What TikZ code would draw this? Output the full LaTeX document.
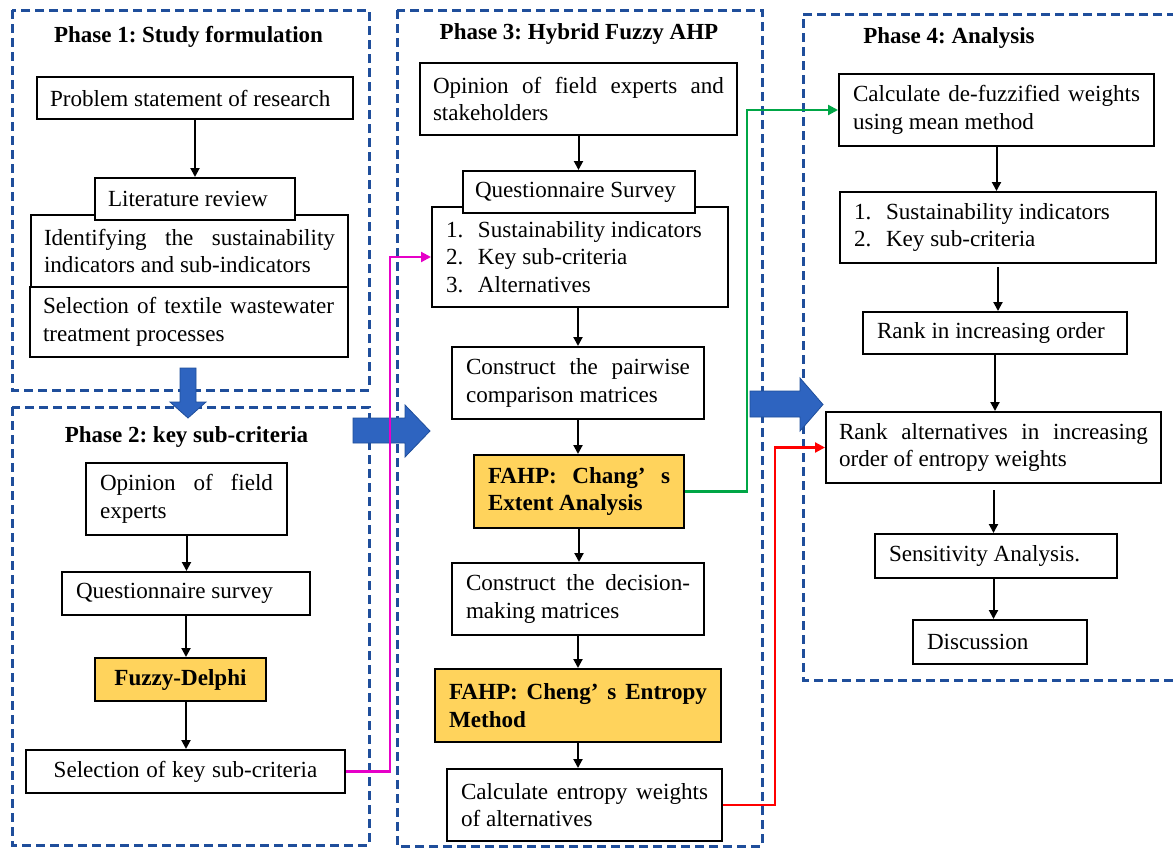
\documentclass[tikz,border=0pt]{standalone}
\usepackage{fontspec}
\setmainfont{Liberation Serif}
\usetikzlibrary{arrows.meta,calc}
\setlength{\parindent}{0pt}
\frenchspacing
\newcommand\sline[2]{\makebox[#1][s]{\spaceskip=0pt\relax\xspaceskip=0pt\relax #2}}
\newcommand\itm[2]{\makebox[32pt][l]{#1}#2}
\definecolor{dashblue}{RGB}{31,78,155}
\definecolor{arrblue}{RGB}{46,100,192}
\definecolor{gold}{RGB}{255,211,92}
\definecolor{mag}{RGB}{230,0,200}
\definecolor{grn}{RGB}{0,166,70}
\begin{document}
\begin{tikzpicture}[x=1pt,y=-1pt,
 box/.style={draw=black, line width=2pt, fill=white, anchor=north west, align=left, inner ysep=0pt, font=\fontsize{23.1}{27.5}\selectfont,
   execute at begin node={\spaceskip=0pt\relax\xspaceskip=0pt\relax}},
 cbox/.style={box, align=center},
 hbox/.style={box, fill=gold, font=\fontsize{23.1}{27.5}\selectfont\bfseries},
 phase/.style={dashblue, line width=3pt, dash pattern=on 9pt off 5pt},
 title/.style={anchor=base, font=\fontsize{23}{27.5}\selectfont\bfseries, inner sep=0pt},
 arr/.style={line width=2pt, -{Triangle[length=9pt,width=9pt]}},
 link/.style={line width=2.2pt, -{Triangle[length=10pt,width=10pt]}},
 barrow/.style={fill=arrblue, draw=dashblue, line width=0.8pt}
]
\useasboundingbox (0,0) rectangle (1173,849);
\clip (0,0) rectangle (1173,849);
\fill[white] (0,0) rectangle (1173,849);

% phase frames
\draw[phase] (12,10) rectangle (369,390);
\draw[phase] (12,407) rectangle (369,845);
\draw[phase] (397,10) rectangle (762,846);
\draw[phase] (1190,14) -- (803,14) -- (803,680) -- (1190,680);

% titles
\node[title] (t1) at (188.5,42) {Phase 1: Study formulation};
\node[title] (t2) at (186.5,442) {Phase 2: key sub-criteria};
\node[title] (t3) at (579,39) {Phase 3: Hybrid Fuzzy AHP};
\node[title] (t4) at (949,43) {Phase 4: Analysis};

% Phase 1
\node[box, minimum width=316pt, minimum height=42pt, text width=290pt, inner xsep=13pt] (p1) at (36,76) {Problem statement of research};
\node[box, minimum width=317pt, minimum height=72pt, text width=291pt, inner xsep=13pt] (ident) at (30,214) {\sline{291pt}{Identifying the sustainability}\\indicators and sub-indicators};
\node[box, minimum width=318pt, minimum height=70pt, text width=292pt, inner xsep=13pt] (sel) at (29,286) {\sline{291pt}{Selection of textile wastewater}\\treatment processes};
\node[box, minimum width=200pt, minimum height=42pt, text width=174pt, inner xsep=13pt] (lit) at (94,177) {Literature review};

% Phase 2
\node[box, minimum width=201pt, minimum height=72pt, text width=173pt, inner xsep=14pt] (op2) at (85,462) {\sline{173pt}{Opinion of field}\\experts};
\node[box, minimum width=248pt, minimum height=43pt, text width=220pt, inner xsep=14pt] (qs2) at (61,571) {Questionnaire survey};
\node[hbox, align=center, minimum width=171pt, minimum height=43pt, text width=151pt, inner xsep=10pt] (fd) at (94,657) {Fuzzy-Delphi};
\node[cbox, minimum width=319pt, minimum height=43pt, text width=291pt, inner xsep=14pt] (sk) at (25,749) {Selection of key sub-criteria};

% Phase 3
\node[box, minimum width=317pt, minimum height=72pt, text width=291pt, inner xsep=13pt] (op3) at (419,62) {\sline{291pt}{Opinion of field experts and}\\stakeholders};
\node[box, minimum width=296pt, minimum height=100pt, text width=268pt, inner xsep=14pt] (list3) at (431,206) {\itm{1.}{Sustainability indicators}\\\itm{2.}{Key sub-criteria}\\\itm{3.}{Alternatives}};
\node[box, minimum width=232pt, minimum height=42pt, text width=208pt, inner xsep=12pt] (qs3) at (462,170) {Questionnaire Survey};
\node[box, minimum width=252pt, minimum height=72pt, text width=224pt, inner xsep=14pt] (cp) at (451,346) {\sline{224pt}{Construct the pairwise}\\comparison matrices};
\node[hbox, minimum width=210pt, minimum height=73pt, text width=182pt, inner xsep=14pt] (ch) at (473,454) {\sline{182pt}{FAHP: Chang’ s}\\Extent Analysis};
\node[box, minimum width=252pt, minimum height=72pt, text width=224pt, inner xsep=14pt] (cd) at (451,562) {\sline{224pt}{Construct the decision-}\\making matrices};
\node[hbox, minimum width=286pt, minimum height=73pt, text width=258pt, inner xsep=14pt] (ce) at (434,668) {\sline{258pt}{FAHP: Cheng’ s Entropy}\\Method};
\node[box, minimum width=275pt, minimum height=72pt, text width=247pt, inner xsep=14pt] (cw) at (446,768) {\sline{247pt}{Calculate entropy weights}\\of alternatives};

% Phase 4
\node[box, minimum width=315pt, minimum height=72pt, text width=287pt, inner xsep=14pt] (dfw) at (838,73) {\sline{287pt}{Calculate de-fuzzified weights}\\using mean method};
\node[box, minimum width=316pt, minimum height=71pt, text width=288pt, inner xsep=14pt] (list4) at (839,191) {\itm{1.}{Sustainability indicators}\\\itm{2.}{Key sub-criteria}};
\node[box, minimum width=264pt, minimum height=42pt, text width=236pt, inner xsep=14pt] (rio) at (862,311) {Rank in increasing order};
\node[box, minimum width=335pt, minimum height=71pt, text width=309pt, inner xsep=13pt] (ra) at (825,411) {\sline{309pt}{Rank alternatives in increasing}\\order of entropy weights};
\node[box, minimum width=242pt, minimum height=44pt, text width=214pt, inner xsep=14pt] (sa) at (874,533) {Sensitivity Analysis.};
\node[box, minimum width=174pt, minimum height=44pt, text width=146pt, inner xsep=14pt] (disc) at (912,619) {Discussion};

% vertical arrows
\draw[arr] (p1.south) -- (p1.south |- lit.north);
\draw[arr] (op2.south) -- (op2.south |- qs2.north);
\draw[arr] (qs2.south) -- (qs2.south |- fd.north);
\draw[arr] (fd.south -| qs2.south) -- (qs2.south |- sk.north);
\draw[arr] (op3.south) -- (op3.south |- qs3.north);
\draw[arr] (list3.south -| cp.north) -- (cp.north);
\draw[arr] (cp.south) -- (cp.south |- ch.north);
\draw[arr] (ch.south) -- (ch.south |- cd.north);
\draw[arr] (cd.south) -- (cd.south |- ce.north);
\draw[arr] (ce.south) -- (ce.south |- cw.north);
\draw[arr] (dfw.south) -- (dfw.south |- list4.north);
\draw[arr, shorten <=3pt] (list4.south) -- (list4.south |- rio.north);
\draw[arr] (rio.south) -- (rio.south |- ra.north);
\draw[arr, shorten <=6pt] (ra.south) -- (ra.south |- sa.north);
\draw[arr] (sa.south -| ra.south) -- (ra.south |- disc.north);

% block arrows
\draw[barrow] (180,368) -- (196,368) -- (196,402) -- (206,402) -- (188,418) -- (170,402) -- (180,402) -- cycle;
\draw[barrow] (353,418) -- (405,418) -- (405,405) -- (430,431) -- (405,457) -- (405,443) -- (353,443) -- cycle;
\draw[barrow] (750,391) -- (800,391) -- (800,378) -- (823,404.5) -- (800,431) -- (800,417) -- (750,417) -- cycle;

% coloured links
\draw[link, mag] (sk.east) -- ++(44,0) |- (list3.west);
\draw[link, grn] (ch.east) -- ++(62,0) |- (dfw.west);
\draw[link, red] (cw.east) -- ++(52,0) |- (ra.west);
\end{tikzpicture}
\end{document}
